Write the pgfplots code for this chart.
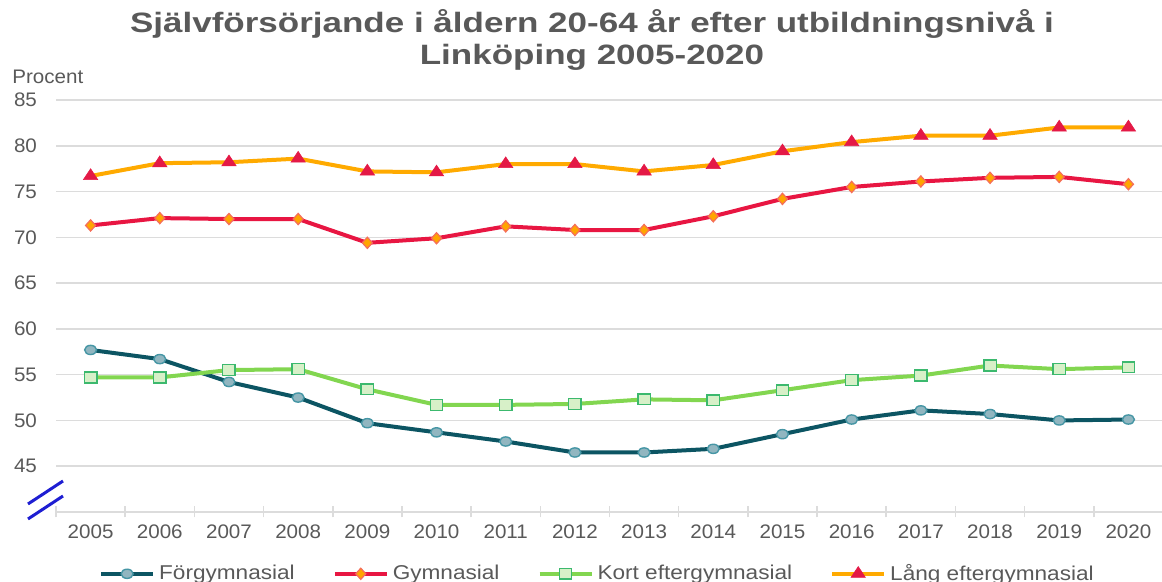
\documentclass[border=0pt]{standalone}
\usepackage{fontspec}
\setmainfont[FakeStretch=1.05]{Liberation Sans}
\newfontfamily\titlefont[FakeStretch=1.25]{Liberation Sans}
\newfontfamily\legfont[FakeStretch=1.13]{Liberation Sans}
\usepackage{pgfplots}
\pgfplotsset{compat=1.18}
\definecolor{gridgray}{RGB}{220,220,220}
\definecolor{labelgray}{RGB}{89,89,89}
\definecolor{tealc}{RGB}{12,85,99}
\definecolor{circfill}{RGB}{145,182,192}
\definecolor{circedge}{RGB}{70,150,165}
\definecolor{redc}{RGB}{232,22,66}
\definecolor{diafill}{RGB}{255,165,0}
\definecolor{diaedge}{RGB}{245,110,90}
\definecolor{greenc}{RGB}{130,214,80}
\definecolor{sqfill}{RGB}{215,240,200}
\definecolor{sqedge}{RGB}{60,185,110}
\definecolor{orangec}{RGB}{255,170,0}
\definecolor{trired}{RGB}{228,25,70}
\definecolor{breakblue}{RGB}{30,30,210}
\begin{document}
\begin{tikzpicture}
\useasboundingbox (0,0) rectangle (581pt,291pt);
\begin{axis}[
  at={(28pt,35pt)}, anchor=south west,
  scale only axis, width=553.5pt, height=206pt,
  xmin=2004.5, xmax=2020.5, ymin=40, ymax=85,
  xtick={2005,2006,...,2020},
  minor xtick={2004.5,2005.5,...,2020.5},
  ytick={45,50,...,85},
  ymajorgrids, grid style={gridgray, line width=0.8pt},
  major tick length=0pt,
  minor tick length=5.5pt, tick align=center,
  minor x tick style={gridgray, line width=0.8pt},
  axis x line*=bottom, axis y line*=left,
  y axis line style={draw=none},
  x axis line style={gridgray, line width=0.8pt, -},
  /pgf/number format/assume math mode=true,
  /pgf/number format/1000 sep={},
  tick label style={font=\fontsize{9.8}{11}\selectfont, text=labelgray},
  xticklabel style={yshift=-3pt},
  yticklabel style={xshift=-6pt},
  clip=false,
  legend columns=4,
  legend style={at={(0.49,-0.15)}, anchor=center, draw=none, fill=none,
    font=\legfont\fontsize{10}{12}\selectfont, text=labelgray,
    /tikz/every even column/.append style={column sep=17pt}},
  legend image code/.code={\draw[mark repeat=2,mark phase=2] plot coordinates {(0pt,0pt)(13pt,0pt)(26pt,0pt)};},
]
\addplot[color=tealc, line width=2pt, mark=*, mark size=2.3pt,
  mark options={fill=circfill, draw=circedge, line width=0.7pt, xscale=1.3}]
  coordinates {(2005,57.7)(2006,56.7)(2007,54.2)(2008,52.5)(2009,49.7)(2010,48.7)(2011,47.7)(2012,46.5)(2013,46.5)(2014,46.9)(2015,48.5)(2016,50.1)(2017,51.1)(2018,50.7)(2019,50.0)(2020,50.1)};
\addlegendentry{Förgymnasial}
\addplot[color=redc, line width=2pt, mark=diamond*, mark size=2.8pt,
  mark options={fill=diafill, draw=diaedge, line width=0.6pt, xscale=1.2}]
  coordinates {(2005,71.3)(2006,72.1)(2007,72.0)(2008,72.0)(2009,69.4)(2010,69.9)(2011,71.2)(2012,70.8)(2013,70.8)(2014,72.3)(2015,74.2)(2016,75.5)(2017,76.1)(2018,76.5)(2019,76.6)(2020,75.8)};
\addlegendentry{Gymnasial}
\addplot[color=greenc, line width=2pt, mark=square*, mark size=2.7pt,
  mark options={fill=sqfill, draw=sqedge, line width=0.7pt, xscale=1.15}]
  coordinates {(2005,54.7)(2006,54.7)(2007,55.5)(2008,55.6)(2009,53.4)(2010,51.7)(2011,51.7)(2012,51.8)(2013,52.3)(2014,52.2)(2015,53.3)(2016,54.4)(2017,54.9)(2018,56.0)(2019,55.6)(2020,55.8)};
\addlegendentry{Kort eftergymnasial}
\addplot[color=orangec, line width=2pt, mark=triangle*, mark size=3.6pt,
  mark options={fill=trired, draw=trired, line width=0.3pt, xscale=1.15}]
  coordinates {(2005,76.7)(2006,78.1)(2007,78.2)(2008,78.6)(2009,77.2)(2010,77.1)(2011,78.0)(2012,78.0)(2013,77.2)(2014,77.9)(2015,79.4)(2016,80.4)(2017,81.1)(2018,81.1)(2019,82.0)(2020,82.0)};
\addlegendentry{Lång eftergymnasial}
\end{axis}
\draw[breakblue, line width=1.5pt] (14pt,39pt)--(31.5pt,50.5pt);
\draw[breakblue, line width=1.5pt] (14pt,31.5pt)--(31.5pt,43pt);
\node[anchor=base west, text=labelgray, font=\fontsize{9.8}{11}\selectfont, inner sep=0pt] at (6pt,249pt) {Procent};
\node[anchor=base, text=labelgray, font=\titlefont\fontsize{14}{16}\bfseries, inner sep=0pt] at (296pt,274.5pt) {Självförsörjande i åldern 20-64 år efter utbildningsnivå i};
\node[anchor=base, text=labelgray, font=\titlefont\fontsize{14}{16}\bfseries, inner sep=0pt] at (296pt,258.5pt) {Linköping 2005-2020};
\end{tikzpicture}
\end{document}
